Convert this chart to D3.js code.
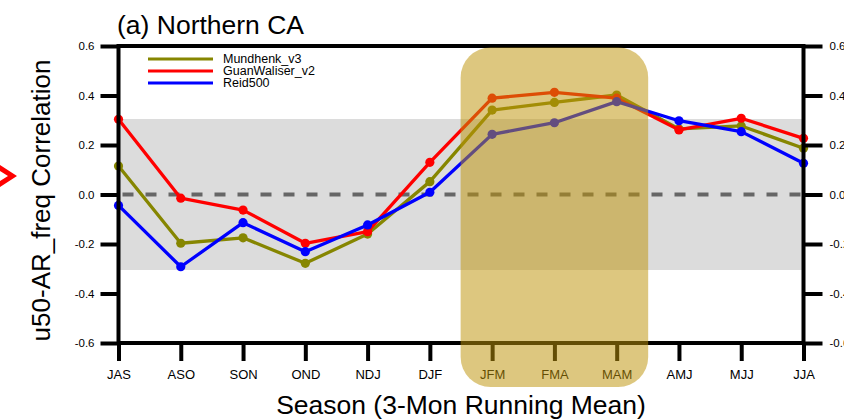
<!DOCTYPE html>
<html>
<head>
<meta charset="utf-8">
<script src="https://cdn.jsdelivr.net/npm/d3@7"></script>
<style>
  html, body { margin: 0; padding: 0; background: #fff; }
  svg { display: block; font-family: "Liberation Sans", Arial, Helvetica, sans-serif; }
</style>
</head>
<body>
<svg id="chart" width="844" height="419"></svg>
<script>
// Seasons (3-month running means)
const seasons = ["JAS","ASO","SON","OND","NDJ","DJF","JFM","FMA","MAM","AMJ","MJJ","JJA"];

// Correlation of u50 with AR frequency, per AR catalogue
const mundhenk = [0.115, -0.197, -0.175, -0.278, -0.160, 0.052, 0.341, 0.372, 0.402, 0.265, 0.277, 0.187];
const guanWaliser = [0.304, -0.015, -0.063, -0.197, -0.150, 0.130, 0.389, 0.413, 0.389, 0.261, 0.308, 0.227];
const reid500 = [-0.044, -0.292, -0.114, -0.231, -0.123, 0.009, 0.243, 0.290, 0.375, 0.298, 0.254, 0.126];

const seriesNames = ["Mundhenk_v3", "GuanWaliser_v2", "Reid500"];
const seriesColors = ["#868600", "#ff0000", "#0000ff"];

// Y ticks
const yTicks = [-0.6, -0.4, -0.2, 0.0, 0.2, 0.4, 0.6];
const yTickLabels = ["-0.6", "-0.4", "-0.2", "0.0", "0.2", "0.4", "0.6"];

// Significance band (+/-) and highlighted seasons
const sigLevel = 0.305;
const highlightSeasons = ["JFM", "MAM"];

const svg = d3.select("#chart");
const pLeft = 118.5, pRight = 803.5, pTop = 46, pBottom = 343;

const x = d3.scalePoint().domain(seasons).range([pLeft, pRight]);
const y = d3.scaleLinear().domain([-0.6, 0.6]).range([pBottom, pTop]);

// significance band
svg.append("rect")
  .attr("x", pLeft).attr("width", pRight - pLeft)
  .attr("y", y(sigLevel)).attr("height", y(-sigLevel) - y(sigLevel))
  .attr("fill", "#dcdcdc");

// zero reference line
svg.append("line")
  .attr("x1", pLeft + 4).attr("x2", pRight)
  .attr("y1", y(0)).attr("y2", y(0))
  .attr("stroke", "#666").attr("stroke-width", 4)
  .attr("stroke-dasharray", "11,12");

// series
const allSeries = [mundhenk, guanWaliser, reid500];
const line = d3.line().x((d, i) => x(seasons[i])).y(d => y(d));
allSeries.forEach((vals, k) => {
  const g = svg.append("g");
  g.append("path").datum(vals)
    .attr("d", line).attr("fill", "none")
    .attr("stroke", seriesColors[k]).attr("stroke-width", 3.3)
    .attr("stroke-linejoin", "round");
  g.selectAll("circle").data(vals).join("circle")
    .attr("cx", (d, i) => x(seasons[i])).attr("cy", d => y(d))
    .attr("r", 4.6).attr("fill", seriesColors[k]);
});

// axes
const fmt = v => yTickLabels[yTicks.indexOf(v)];
const axisStyle = g => {
  g.select(".domain").remove();
  g.selectAll(".tick line").attr("stroke", "#000").attr("stroke-width", 4);
  g.selectAll(".tick text").attr("fill", "#000")
    .style("font-family", "'Liberation Sans', Arial, sans-serif");
};
svg.append("g").attr("transform", `translate(${pLeft},0)`)
  .call(d3.axisLeft(y).tickValues(yTicks).tickFormat(fmt).tickSize(18).tickPadding(6))
  .call(axisStyle)
  .selectAll(".tick text").style("font-size", "11.5px");
svg.append("g").attr("transform", `translate(${pRight},0)`)
  .call(d3.axisRight(y).tickValues(yTicks).tickFormat(fmt).tickSize(19).tickPadding(7))
  .call(axisStyle)
  .selectAll(".tick text").style("font-size", "11.5px");
svg.append("g").attr("transform", `translate(0,${pBottom})`)
  .call(d3.axisBottom(x).tickSize(18).tickPadding(9))
  .call(axisStyle)
  .selectAll(".tick text").style("font-size", "13px");

// frame
svg.append("rect")
  .attr("x", pLeft).attr("y", pTop)
  .attr("width", pRight - pLeft).attr("height", pBottom - pTop)
  .attr("fill", "none").attr("stroke", "#000").attr("stroke-width", 4);

// legend
const legY = [59, 71, 83];
seriesNames.forEach((name, k) => {
  svg.append("line")
    .attr("x1", 148).attr("x2", 213)
    .attr("y1", legY[k]).attr("y2", legY[k])
    .attr("stroke", seriesColors[k]).attr("stroke-width", 3);
  svg.append("text")
    .attr("x", 223).attr("y", legY[k] + 4.3)
    .style("font-size", "12.5px").text(name);
});

// titles
svg.append("text").attr("x", 117).attr("y", 34)
  .style("font-size", "26.5px").text("(a) Northern CA");
svg.append("text")
  .attr("x", (pLeft + pRight) / 2).attr("y", 414)
  .attr("text-anchor", "middle").style("font-size", "26.5px")
  .text("Season (3-Mon Running Mean)");
svg.append("text")
  .attr("transform", `translate(50,${(pTop + pBottom) / 2 + 6}) rotate(-90)`)
  .attr("text-anchor", "middle").style("font-size", "26px")
  .text("u50-AR_freq Correlation");

// pointer mark at the left edge
svg.append("path")
  .attr("d", "M0,165 L17,176 L0,187 L0,181 L8,176 L0,171 Z")
  .attr("fill", "#ff0000");

// highlighted season window
const hx0 = x(highlightSeasons[0]) - 31.5, hx1 = x(highlightSeasons[1]) + 31.5;
svg.append("rect")
  .attr("x", hx0).attr("y", 47.5)
  .attr("width", hx1 - hx0).attr("height", 387 - 47.5)
  .attr("rx", 30).attr("ry", 30)
  .attr("fill", "rgb(190,148,10)").attr("fill-opacity", 0.52);
</script>
</body>
</html>
